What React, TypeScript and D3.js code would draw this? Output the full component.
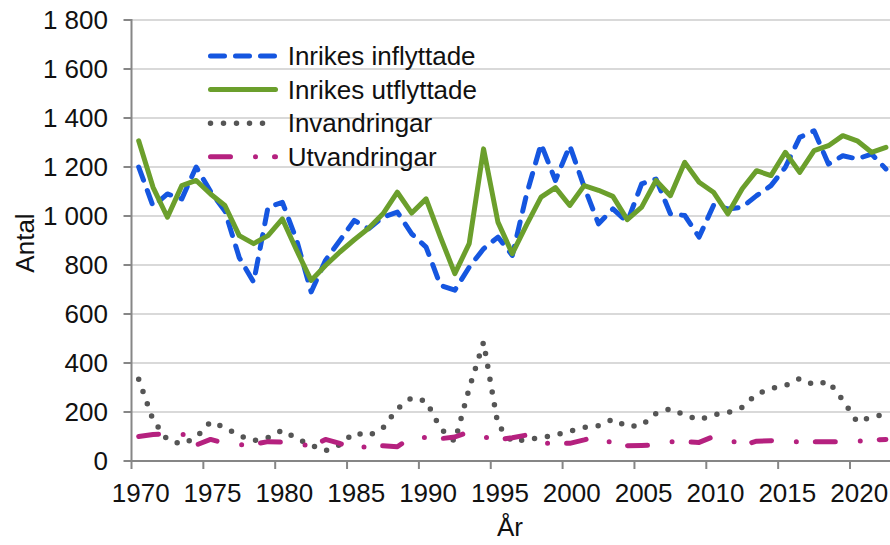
import React from 'react';
import * as d3 from 'd3';

const years = d3.range(1970, 2023);

const inflyttade = [
  1200, 1040, 1090, 1070, 1200, 1100, 1020, 830, 730, 1036,
  1056, 900, 690, 819, 900, 982, 948, 995, 1016, 927,
  873, 717, 697, 791, 866, 914, 839, 1090, 1294, 1145,
  1287, 1119, 968, 1029, 975, 1131, 1151, 1009, 1002, 914,
  1043, 1029, 1036, 1083, 1124, 1199, 1321, 1348, 1212, 1246,
  1233, 1253, 1192,
];

const utflyttade = [
  1307, 1117, 995, 1124, 1145, 1090, 1043, 920, 887, 920,
  988, 859, 737, 798, 853, 903, 950, 1009, 1097, 1012,
  1070, 914, 765, 887, 1274, 975, 846, 965, 1077, 1116,
  1043, 1124, 1105, 1080, 985, 1036, 1145, 1083, 1219, 1138,
  1097, 1009, 1111, 1185, 1165, 1260, 1178, 1267, 1287, 1328,
  1307, 1260, 1280,
];

const invandringar = [
  334, 167, 86, 69, 96, 160, 136, 104, 83, 96,
  126, 92, 65, 42, 66, 115, 103, 135, 213, 258,
  245, 133, 80, 296, 485, 147, 79, 88, 95, 106,
  122, 137, 144, 170, 140, 145, 194, 213, 187, 168,
  189, 197, 219, 273, 296, 308, 337, 311, 325, 248,
  160, 180, 190,
];

const utvandringar = [
  100, 108, 112, 113, 65, 88, 72, 66, 68, 79,
  77, 75, 58, 88, 72, 42, 65, 62, 58, 99,
  95, 91, 98, 119, 99, 86, 95, 106, 72, 72,
  72, 86, 102, 70, 62, 63, 65, 79, 78, 76,
  100, 91, 63, 81, 83, 86, 76, 78, 79, 79,
  80, 86, 88,
];

const yTicks = [0, 200, 400, 600, 800, 1000, 1200, 1400, 1600, 1800];
const xTickYears = [1970, 1975, 1980, 1985, 1990, 1995, 2000, 2005, 2010, 2015, 2020];

const seriesNames = ['Inrikes inflyttade', 'Inrikes utflyttade', 'Invandringar', 'Utvandringar'];
const seriesValues = [inflyttade, utflyttade, invandringar, utvandringar];
const seriesColors = ['#1556e0', '#6b9f2c', '#555555', '#b5217f'];
const seriesDash = ['14 11', 'none', '0 13', '20 25 0 19'];
const seriesWidth = [5, 5, 5.5, 5];

const width = 890;
const height = 545;
const left = 131.5;
const top = 20;
const bottom = 461;
const yearStep = 14.37;

const font = '"Liberation Sans", Arial, sans-serif';
const fs = 26;

const fmt = d3.formatLocale({ decimal: ',', thousands: ' ', grouping: [3], currency: ['', ''] }).format(',');

export default function App() {
  const x = d3.scaleBand<number>()
    .domain(years)
    .range([left, left + yearStep * years.length]);

  const y = d3.scaleLinear()
    .domain([0, 1800])
    .range([bottom, top]);

  const cx = (yr: number) => x(yr)! + x.bandwidth() / 2;

  const line = d3.line<number>()
    .x((_, i) => cx(years[i]))
    .y(d => y(d));

  return (
    <svg
      width={width}
      height={height}
      style={{ position: 'absolute', left: 0, top: 0, background: '#fff' }}
      fontFamily={font}
    >
      {/* gridlines */}
      {yTicks.filter(t => t > 0).map(t => (
        <line key={t} x1={left} x2={width} y1={y(t)} y2={y(t)} stroke="#d9d9d9" strokeWidth={2} />
      ))}

      {/* y axis */}
      <line x1={left} x2={left} y1={top - 1} y2={bottom + 1} stroke="#868686" strokeWidth={2} />
      {yTicks.map(t => (
        <g key={t}>
          <line x1={left - 8} x2={left} y1={y(t)} y2={y(t)} stroke="#868686" strokeWidth={2} />
          <text x={108} y={y(t)} dy="0.35em" textAnchor="end" fontSize={fs} fill="#111">{fmt(t)}</text>
        </g>
      ))}

      {/* x axis */}
      <line x1={left} x2={width} y1={bottom} y2={bottom} stroke="#868686" strokeWidth={2} />
      {xTickYears.map(yr => (
        <g key={yr}>
          <line x1={x(yr)!} x2={x(yr)!} y1={bottom} y2={bottom + 8} stroke="#868686" strokeWidth={2} />
          <text x={cx(yr) + 2} y={501.5} textAnchor="middle" fontSize={fs} fill="#111">{yr}</text>
        </g>
      ))}

      <text x={510} y={536} textAnchor="middle" fontSize={fs} fill="#111">År</text>
      <text transform="translate(34,243) rotate(-90)" textAnchor="middle" fontSize={fs} fill="#111">Antal</text>

      {/* series */}
      {seriesValues.map((vals, i) => (
        <path
          key={seriesNames[i]}
          d={line(vals)!}
          fill="none"
          stroke={seriesColors[i]}
          strokeWidth={seriesWidth[i]}
          strokeDasharray={seriesDash[i]}
          strokeLinecap="round"
          strokeLinejoin="round"
        />
      ))}

      {/* legend */}
      {seriesNames.map((name, i) => {
        const ly = 56 + i * 33.6;
        return (
          <g key={name}>
            <line
              x1={210.5}
              x2={275.5}
              y1={ly}
              y2={ly}
              stroke={seriesColors[i]}
              strokeWidth={seriesWidth[i]}
              strokeDasharray={seriesDash[i]}
              strokeLinecap="round"
            />
            <text x={287.7} y={ly} dy="0.35em" fontSize={fs} fill="#111">{name}</text>
          </g>
        );
      })}
    </svg>
  );
}
